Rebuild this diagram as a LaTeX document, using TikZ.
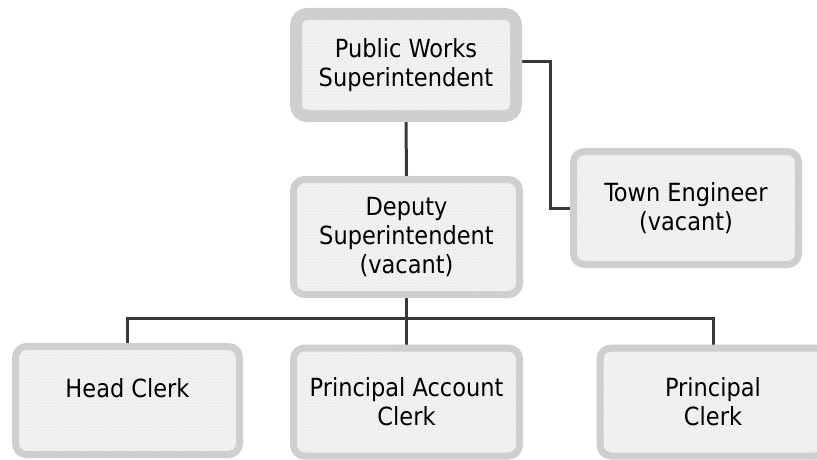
\documentclass[tikz,border=0pt]{standalone}
\usepackage{fontspec}
\setmainfont{DejaVu Sans Condensed}
\usetikzlibrary{patterns,backgrounds}
\definecolor{linec}{HTML}{383838}
\definecolor{boxfill}{HTML}{EDEDED}
\definecolor{boxedge}{HTML}{CFCFCF}
\begin{document}
\begin{tikzpicture}[x=1pt,y=-1pt,
  orgbox/.style={draw=boxedge, line width=7pt, rounded corners=11pt,
    preaction={fill=boxfill}, pattern=crosshatch dots, pattern color=white,
    minimum width=226pt, minimum height=110pt, inner sep=0pt, align=center,
    font=\fontsize{25}{29}\selectfont, text=black},
  topbox/.style={orgbox, line width=12pt, minimum width=220pt, minimum height=102pt},
  conn/.style={draw=linec, line width=3pt, line join=miter}]
\useasboundingbox (0,0) rectangle (817,460);
\node[topbox] (top) at (406,65) {Public Works\\Superintendent};
\node[orgbox, minimum height=115pt] (dep) at (406.5,237) {Deputy\\Superintendent\\(vacant)};
\node[orgbox, minimum width=225pt, minimum height=113pt] (town) at (686,208) {Town Engineer\\(vacant)};
\node[orgbox, minimum width=224pt, minimum height=108pt] (hc) at (127.5,400.5) {Head Clerk\\[-12pt]\strut};
\node[orgbox, minimum height=108pt] (pac) at (406.5,402) {Principal Account\\Clerk};
\node[orgbox, minimum height=108pt] (pc) at (713,402) {Principal\\Clerk};
\begin{scope}[on background layer]
  \draw[conn] ([yshift=3pt]top.east) -- ++(28,0) |- (town.west);
  \draw[conn] (top.south) -- (dep.north);
  \draw[conn] (dep.south) -- ++(0,20) coordinate (bus);
  \draw[conn] (hc.north) |- (bus) -| (pc.north);
  \draw[conn] (pac.north) -- (pac.north |- bus);
\end{scope}
\end{tikzpicture}
\end{document}
